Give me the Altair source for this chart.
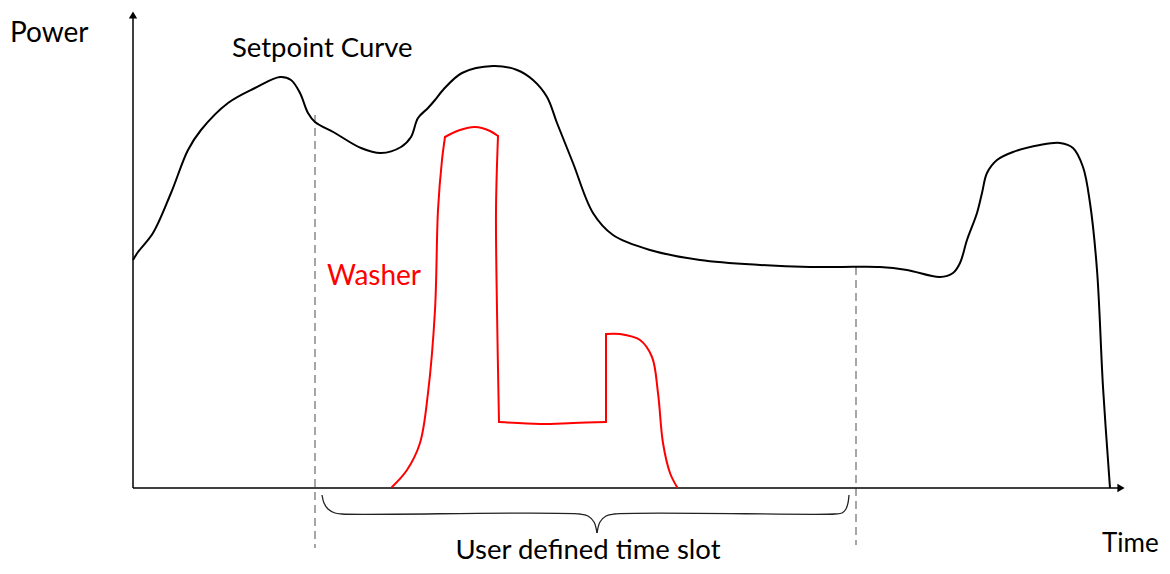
import altair as alt
import pandas as pd

# Setpoint curve (time, power) in arbitrary units
sp_time = [0, 5, 20, 38, 55, 68, 95, 122, 147, 158, 167, 175, 182, 202, 228, 248, 268, 278, 285, 295,
           302, 310, 329, 360, 384, 400, 414, 424, 440, 460, 480, 517, 567, 627, 677, 707, 747, 774,
           807, 820, 827, 834, 844, 849, 854, 864, 880, 907, 927, 940, 950, 957, 964, 970, 977]
sp_power = [228, 236, 255, 295, 338, 358, 385, 400, 411, 408, 395, 375, 366, 355, 340, 335, 341, 351, 370, 380,
            388, 398, 415, 422, 418, 408, 391, 365, 325, 275, 253, 238, 228, 223, 221, 221, 221, 218,
            211, 215, 225, 248, 275, 295, 315, 328, 336, 343, 345, 340, 321, 285, 218, 101, 0]

# Washer load curve, as pieces between its sharp corners
wa_time = [259, 274, 287, 295, 302, 305, 309, 312,
           312, 327, 342, 357, 365,
           365, 363, 364, 366,
           366, 407, 440, 473,
           473, 473,
           473, 487, 507, 519, 525, 530, 537, 544]
wa_power = [1, 18, 45, 95, 178, 278, 328, 351,
            351, 358, 361, 357, 352,
            352, 278, 178, 66,
            66, 64, 65, 66,
            66, 154,
            154, 154, 148, 131, 95, 45, 15, 1]
wa_piece = [1] * 8 + [2] * 5 + [3] * 4 + [4] * 4 + [5] * 2 + [6] * 8

# User defined time slot
slot_start, slot_end = 182, 723
slot_top_start, slot_top_end = 373, 221

# Brace (two halves)
br_time = [189, 191, 195, 202, 209, 447, 455, 461, 464,
           464, 467, 473, 481, 702, 709, 713, 715, 716]
br_power = [-7, -15, -21, -25, -26, -26, -28, -34, -45,
            -45, -34, -28, -26, -26, -25, -21, -15, -7]
br_half = ["L"] * 9 + ["R"] * 9

xs = alt.Scale(domain=[-125, 1029])
ys = alt.Scale(domain=[-78, 480])

sp = pd.DataFrame({"t": sp_time, "p": sp_power, "o": range(len(sp_time))})
wa = pd.DataFrame({"t": wa_time, "p": wa_power, "s": wa_piece, "o": range(len(wa_time))})
br = pd.DataFrame({"t": br_time, "p": br_power, "h": br_half, "o": range(len(br_time))})
dash = pd.DataFrame({"t": [slot_start, slot_end], "top": [slot_top_start, slot_top_end], "bot": [-60, -57]})

X = lambda f: alt.X(f, type="quantitative", scale=xs, axis=None)
Y = lambda f: alt.Y(f, type="quantitative", scale=ys, axis=None)

setpoint = alt.Chart(sp).mark_line(color="black", strokeWidth=2, interpolate="catmull-rom").encode(
    x=X("t"), y=Y("p"), order="o:Q")
washer = alt.Chart(wa).mark_line(color="#ff0000", strokeWidth=2, interpolate="catmull-rom",
                                 strokeCap="round", strokeJoin="round").encode(
    x=X("t"), y=Y("p"), detail="s:N", order="o:Q")
brace = alt.Chart(br).mark_line(color="#222222", strokeWidth=1.3, interpolate="catmull-rom").encode(
    x=X("t"), y=Y("p"), detail="h:N", order="o:Q")
dashes = alt.Chart(dash).mark_rule(color="#777777", strokeWidth=1.3, strokeDash=[8, 5]).encode(
    x=X("t"), y=Y("top"), y2="bot")

axdf = pd.DataFrame({"a": [0]})
xaxis = alt.Chart(axdf).mark_rule(color="black", strokeWidth=1.5).encode(
    x=alt.X(datum=0, type="quantitative", scale=xs, axis=None),
    x2=alt.datum(987),
    y=alt.Y(datum=0, type="quantitative", scale=ys, axis=None))
yaxis = alt.Chart(axdf).mark_rule(color="black", strokeWidth=1.5).encode(
    x=alt.X(datum=0, type="quantitative", scale=xs, axis=None),
    y=alt.Y(datum=0, type="quantitative", scale=ys, axis=None),
    y2=alt.datum(470))
arrow_up = alt.Chart(axdf).mark_point(shape="triangle-up", filled=True, color="black", size=70, opacity=1).encode(
    x=alt.X(datum=0, type="quantitative", scale=xs, axis=None),
    y=alt.Y(datum=473, type="quantitative", scale=ys, axis=None))
arrow_right = alt.Chart(axdf).mark_point(shape="triangle-right", filled=True, color="black", size=70, opacity=1).encode(
    x=alt.X(datum=988, type="quantitative", scale=xs, axis=None),
    y=alt.Y(datum=0, type="quantitative", scale=ys, axis=None))

FONT = "Lato"
def label(txt, t, p, color="black", align="left", size=28):
    return alt.Chart(axdf).mark_text(text=txt, font=FONT, fontSize=size, color=color, align=align,
                                     baseline="alphabetic").encode(
        x=alt.X(datum=t, type="quantitative", scale=xs, axis=None),
        y=alt.Y(datum=p, type="quantitative", scale=ys, axis=None))

texts = [
    label("Power", -123, 446),
    label("Setpoint Curve", 99, 431, size=27.5),
    label("Washer", 194, 203, color="#ff0000"),
    label("Time", 969, -64, size=26),
    label("User defined time slot", 455, -71, align="center", size=27.5),
]

chart = alt.layer(dashes, xaxis, yaxis, arrow_up, arrow_right, setpoint, washer, brace, *texts).properties(
    width=1154, height=558, padding=0, autosize=alt.AutoSizeParams(type="none")
).configure_view(stroke=None)

chart.save("out.html", embed_options={"renderer": "svg", "actions": False})
